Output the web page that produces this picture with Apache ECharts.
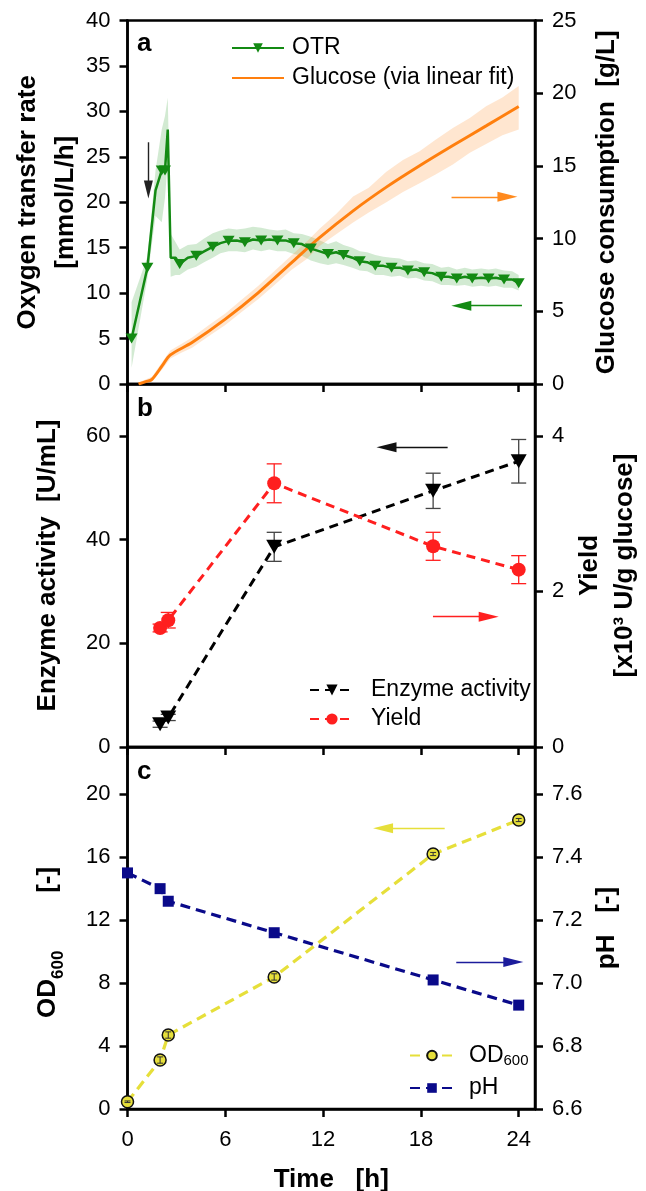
<!DOCTYPE html>
<html>
<head>
<meta charset="utf-8">
<title>Cultivation time course</title>
<script src="https://cdn.jsdelivr.net/npm/echarts@6/dist/echarts.min.js"></script>
<style>
  html, body { margin: 0; padding: 0; background: #fff; }
  #chart { width: 646px; height: 1191px; }
</style>
</head>
<body>
<div id="chart"></div>
<script>
// ---------- shared time axis (h) ----------
const timeTicks = [0, 6, 12, 18, 24];

// ---------- panel a: oxygen transfer rate (mmol/L/h) ----------
const otrTime   = [0.25, 1.22, 1.72, 2.1, 2.3, 2.47, 2.65, 2.95, 3.2, 3.7, 4.22, 4.7, 5.23, 5.7, 6.2, 6.7, 7.2, 7.7, 8.2, 8.7, 9.2, 9.7, 10.2, 10.7, 11.25, 11.8, 12.3, 12.8, 13.25, 13.8, 14.25, 14.7, 15.2, 15.7, 16.2, 16.7, 17.2, 17.7, 18.2, 18.7, 19.25, 19.7, 20.2, 20.7, 21.15, 21.7, 22.15, 22.6, 23.1, 23.6, 24.0];
const otrValue  = [5.0, 12.8, 21.3, 23.5, 23.5, 28.0, 13.9, 13.9, 13.2, 13.9, 14.1, 14.6, 15.1, 15.5, 15.75, 15.8, 15.6, 15.9, 15.8, 15.9, 15.8, 15.8, 15.5, 15.4, 14.9, 14.6, 14.3, 14.5, 14.2, 13.9, 13.5, 13.4, 13.0, 13.0, 12.8, 12.8, 12.5, 12.6, 12.3, 12.2, 11.8, 11.8, 11.6, 11.8, 11.6, 11.7, 11.6, 11.7, 11.5, 11.5, 11.1];
const otrMarked = [1, 1, 0, 1, 1, 0, 0, 0, 1, 0, 1, 0, 1, 0, 1, 0, 1, 0, 1, 0, 1, 0, 1, 0, 1, 0, 1, 0, 1, 0, 1, 0, 1, 0, 1, 0, 1, 0, 1, 0, 1, 0, 1, 0, 1, 0, 1, 0, 1, 0, 1];
const otrLow    = [1.8, 11.6, 18.5, 17.8, 20.5, 24.5, 11.8, 12.0, 12.0, 12.6, 12.9, 13.4, 13.9, 14.4, 14.6, 14.6, 14.5, 14.8, 14.6, 14.8, 14.6, 14.6, 14.3, 14.1, 13.6, 13.3, 13.1, 13.3, 13.1, 12.8, 12.5, 12.4, 12.0, 12.0, 11.8, 11.9, 11.6, 11.7, 11.4, 11.3, 10.9, 10.9, 10.8, 10.9, 10.7, 10.8, 10.7, 10.8, 10.6, 10.6, 10.3];
const otrHigh   = [9.0, 14.0, 23.5, 28.0, 29.5, 31.5, 16.5, 15.6, 14.8, 15.3, 15.4, 16.0, 16.6, 16.9, 17.1, 17.0, 17.1, 17.3, 17.2, 17.0, 16.9, 17.0, 16.6, 16.5, 16.2, 15.8, 15.4, 15.7, 15.3, 15.0, 14.6, 14.5, 14.2, 14.0, 13.9, 13.8, 13.5, 13.6, 13.3, 13.2, 12.8, 12.9, 12.6, 12.8, 12.6, 12.7, 12.6, 12.7, 12.5, 12.4, 12.0];

// ---------- panel a: glucose consumption from linear fit (g/L) ----------
const glcTime  = [0.68, 1.12, 1.5, 2.12, 2.63, 3.96, 6.0, 8.03, 10.07, 11.8, 13.84, 15.88, 17.92, 19.96, 22.0, 24.0];
const glcValue = [0, 0.16, 0.32, 1.24, 2.0, 2.85, 4.46, 6.29, 8.35, 10.08, 11.91, 13.54, 15.01, 16.40, 17.75, 19.08];
const glcBandTime = [0.68, 1.5, 2.12, 2.63, 3.3, 3.96, 5.0, 6.0, 7.0, 8.03, 9.0, 10.07, 11.0, 11.8, 12.8, 13.84, 14.8, 15.88, 16.9, 17.92, 18.9, 19.96, 21.0, 22.0, 23.0, 24.0];
const glcLow   = [0, 0.15, 1.0, 1.75, 2.15, 2.5, 3.3, 4.05, 4.95, 5.85, 6.8, 7.85, 8.6, 9.5, 10.3, 11.1, 11.8, 12.5, 13.2, 13.8, 14.4, 15.1, 15.9, 16.5, 17.1, 17.5];
const glcHigh  = [0.1, 0.5, 1.5, 2.3, 2.75, 3.2, 4.05, 4.85, 5.8, 6.75, 7.75, 8.85, 9.8, 10.7, 11.7, 12.9, 13.5, 14.6, 15.4, 16.0, 16.8, 17.6, 18.3, 19.1, 19.7, 20.5];

// ---------- panel b: offline samples ----------
const sampleTime     = [2, 2.5, 9, 18.75, 24];
const enzymeActivity = [4.4, 5.7, 38.6, 49.4, 55.1];
const enzymeError    = [0.6, 0.6, 2.8, 3.4, 4.2];
const yieldValue     = [1.53, 1.63, 3.39, 2.58, 2.28];
const yieldError     = [0.05, 0.1, 0.25, 0.18, 0.18];

// ---------- panel c: biomass and pH ----------
const odTime  = [0, 2, 2.5, 9, 18.75, 24];
const od600   = [0.46, 3.11, 4.70, 8.39, 16.2, 18.36];
const odError = [0.05, 0.2, 0.2, 0.2, 0.1, 0.1];
const phValue = [7.35, 7.30, 7.26, 7.16, 7.01, 6.93];

// ---------- tick values ----------
const otrTicks    = [0, 5, 10, 15, 20, 25, 30, 35, 40];
const glcTicks    = [0, 5, 10, 15, 20, 25];
const enzymeTicks = [0, 20, 40, 60];
const yieldTicks  = [0, 2, 4];
const odTicks     = [0, 4, 8, 12, 16, 20];
const phTicks     = [6.6, 6.8, 7.0, 7.2, 7.4, 7.6];

// ---------- annotation arrows: [from, to (head centre), colour, head size] in axis units ----------
const otrArrows     = [[[1.28, 26.6], [1.28, 21.4], '#222', [9, 18]], [[24.2, 8.62], [20.48, 8.62], '#138a13', [10, 20]]];
const glcArrows     = [[[19.88, 12.87], [23.31, 12.87], '#ff8a1e', [10, 20]]];
const enzymeArrows  = [[[19.64, 57.8], [15.89, 57.8], '#111', [10, 20]]];
const yieldArrows   = [[[18.74, 1.675], [22.16, 1.675], '#ff2020', [10, 20]]];
const odArrows      = [[[19.46, 17.83], [15.68, 17.83], '#e6df3a', [10, 20]]];
const phArrows      = [[[20.17, 7.067], [23.67, 7.067], '#1c1c9c', [10, 20]]];

const FONT = "'Liberation Sans', Arial, Helvetica, sans-serif";
const GREEN = '#138a13', ORANGE = '#ff7f0e', RED = '#ff1f1f', YELLOW = '#e6df3a', NAVY = '#0a0a8a';

function arrowMarkLine(arrows) {
  return {
    silent: true,
    animation: false,
    symbol: ['none', 'triangle'],
    label: { show: false },
    emphasis: { disabled: true },
    data: arrows.map(a => [
      { coord: a[0], symbolSize: a[3], lineStyle: { color: a[2], width: 1.4, type: 'solid' } },
      { coord: a[1], symbolSize: a[3], lineStyle: { color: a[2], width: 1.4, type: 'solid' } }
    ])
  };
}

function bandRenderer(times, lows, highs, fill) {
  return function (params, api) {
    if (params.dataIndex !== 0) return null;
    const pts = [];
    for (let i = 0; i < times.length; i++) pts.push(api.coord([times[i], highs[i]]));
    for (let i = times.length - 1; i >= 0; i--) pts.push(api.coord([times[i], lows[i]]));
    return { type: 'polygon', shape: { points: pts }, style: { fill: fill } };
  };
}

function errorBarRenderer(color, width, cap) {
  return function (params, api) {
    const x = api.value(0);
    const top = api.coord([x, api.value(2)]);
    const bot = api.coord([x, api.value(1)]);
    const h = cap / 2;
    const st = { stroke: color, lineWidth: width };
    return {
      type: 'group',
      children: [
        { type: 'line', shape: { x1: top[0], y1: top[1], x2: bot[0], y2: bot[1] }, style: st },
        { type: 'line', shape: { x1: top[0] - h, y1: top[1], x2: top[0] + h, y2: top[1] }, style: st },
        { type: 'line', shape: { x1: bot[0] - h, y1: bot[1], x2: bot[0] + h, y2: bot[1] }, style: st }
      ]
    };
  };
}

const tickLabel = { fontSize: 22, color: '#000', fontFamily: FONT };
const titleStyle = { fontSize: 26, fontWeight: 'bold', color: '#000', fontFamily: FONT, lineHeight: 38 };

function xAxisFor(grid, withLabels) {
  const ax = {
    type: 'value', gridIndex: grid, min: 0, max: 25,
    axisLine: { show: true, onZero: false, lineStyle: { color: '#000', width: 2.5 } },
    axisTick: { show: true, inside: false, length: 8, customValues: timeTicks, lineStyle: { color: '#000', width: 2.5 } },
    axisLabel: Object.assign({ show: withLabels, customValues: timeTicks, margin: 20 }, tickLabel),
    splitLine: { show: false },
    nameMoveOverlap: false
  };
  if (withLabels) {
    ax.name = 'Time   [h]';
    ax.nameLocation = 'middle';
    ax.nameGap = 56;
    ax.nameTextStyle = Object.assign({}, titleStyle, { lineHeight: 30 });
  }
  return ax;
}

function yAxisFor(grid, pos, min, max, ticks, name, gap, extra) {
  return Object.assign({
    type: 'value', gridIndex: grid, position: pos, min: min, max: max,
    axisLine: { show: true, onZero: false, lineStyle: { color: '#000', width: 2.5 } },
    axisTick: { show: true, inside: false, length: 8, customValues: ticks, lineStyle: { color: '#000', width: 2.5 } },
    axisLabel: Object.assign({ customValues: ticks, margin: 17 }, tickLabel),
    splitLine: { show: false },
    name: name, nameLocation: 'middle', nameGap: gap, nameRotate: 90, nameMoveOverlap: false,
    nameTextStyle: Object.assign({}, titleStyle)
  }, extra || {});
}

const chart = echarts.init(document.getElementById('chart'), null, { renderer: 'canvas', width: 646, height: 1191 });

const gridBox = { show: true, borderColor: '#000', borderWidth: 2.5, backgroundColor: 'transparent', containLabel: false, outerBoundsMode: 'none' };

const option = {
  animation: false,
  backgroundColor: '#fff',
  title: [
    { text: 'a', left: 137, top: 31, padding: 0, textStyle: { fontSize: 26, fontWeight: 'bold', color: '#000', fontFamily: FONT } },
    { text: 'b', left: 137, top: 396, padding: 0, textStyle: { fontSize: 26, fontWeight: 'bold', color: '#000', fontFamily: FONT } },
    { text: 'c', left: 137, top: 759, padding: 0, textStyle: { fontSize: 26, fontWeight: 'bold', color: '#000', fontFamily: FONT } }
  ],
  grid: [
    Object.assign({ left: 127.5, right: 111, top: 20.5, height: 363.5 }, gridBox),
    Object.assign({ left: 127.5, right: 111, top: 384, height: 363 }, gridBox),
    Object.assign({ left: 127.5, right: 111, top: 747, height: 362 }, gridBox)
  ],
  legend: [
    {
      data: ['OTR', { name: 'Glucose (via linear fit)', itemStyle: { opacity: 0 } }],
      orient: 'vertical', left: 231, top: 36,
      itemWidth: 52, itemHeight: 12, itemGap: 6, selectedMode: false, padding: 0,
      textStyle: { fontSize: 23, color: '#000', fontFamily: FONT, lineHeight: 24, padding: [0, 0, 0, 3] }
    },
    {
      data: ['Enzyme activity', 'Yield'], orient: 'vertical', left: 309, top: 678,
      itemWidth: 44, itemHeight: 14, itemGap: 5, selectedMode: false, padding: 0,
      textStyle: { fontSize: 23, color: '#000', fontFamily: FONT, lineHeight: 24, padding: [0, 0, 0, 12] }
    },
    {
      data: ['OD600', 'pH'], orient: 'vertical', left: 409, top: 1044,
      itemWidth: 44, itemHeight: 12, itemGap: 8, selectedMode: false, padding: 0,
      formatter: n => n === 'OD600' ? '{m|OD}{s|600}' : '{m|pH}',
      textStyle: {
        fontSize: 23, color: '#000', fontFamily: FONT, padding: [0, 0, 0, 10],
        rich: {
          m: { fontSize: 23, lineHeight: 26, fontFamily: FONT, color: '#000' },
          s: { fontSize: 15, lineHeight: 12, verticalAlign: 'bottom', fontFamily: FONT, color: '#000' }
        }
      }
    }
  ],
  xAxis: [xAxisFor(0, false), xAxisFor(1, false), xAxisFor(2, true)],
  yAxis: [
    yAxisFor(0, 'left', 0, 40, otrTicks, 'Oxygen transfer rate\n[mmol/L/h]', 43),
    yAxisFor(0, 'right', 0, 25, glcTicks, 'Glucose consumption  [g/L]', 53),
    yAxisFor(1, 'left', 0, 70, enzymeTicks, 'Enzyme activity  [U/mL]', 61),
    yAxisFor(1, 'right', 0, 70 / 15, yieldTicks, 'Yield\n[x10³ U/g glucose]', 37, {
      nameTextStyle: Object.assign({}, titleStyle, { lineHeight: 35 })
    }),
    yAxisFor(2, 'left', 0, 23, odTicks, '{t|OD}{s|600}{t|        [-]    }', 61, {
      nameTextStyle: Object.assign({}, titleStyle, {
        rich: {
          t: { fontSize: 26, fontWeight: 'bold', lineHeight: 38, fontFamily: FONT, color: '#000' },
          s: { fontSize: 17, fontWeight: 'bold', lineHeight: 21, verticalAlign: 'bottom', fontFamily: FONT, color: '#000' }
        }
      })
    }),
    yAxisFor(2, 'right', 6.6, 7.75, phTicks, 'pH   [-]', 53, {
      axisLabel: Object.assign({ customValues: phTicks, margin: 17, formatter: v => v.toFixed(1) }, tickLabel)
    })
  ],
  series: [
    // panel a: spread bands
    {
      type: 'custom', name: 'OTR spread', xAxisIndex: 0, yAxisIndex: 0, silent: true, z: 1,
      data: otrTime.map((t, i) => [t, otrLow[i], otrHigh[i]]),
      renderItem: bandRenderer(otrTime, otrLow, otrHigh, 'rgba(30,150,30,0.2)')
    },
    {
      type: 'custom', name: 'Glucose spread', xAxisIndex: 0, yAxisIndex: 1, silent: true, z: 1,
      data: glcBandTime.map((t, i) => [t, glcLow[i], glcHigh[i]]),
      renderItem: bandRenderer(glcBandTime, glcLow, glcHigh, 'rgba(255,140,40,0.22)')
    },
    {
      type: 'line', name: 'Glucose (via linear fit)', xAxisIndex: 0, yAxisIndex: 1, z: 3,
      data: glcTime.map((t, i) => [t, glcValue[i]]),
      symbol: 'none', smooth: 0.3,
      lineStyle: { color: ORANGE, width: 3 }, itemStyle: { color: ORANGE },
      markLine: arrowMarkLine(glcArrows)
    },
    {
      type: 'line', name: 'OTR', xAxisIndex: 0, yAxisIndex: 0, z: 4,
      data: otrTime.map((t, i) => otrMarked[i] ? [t, otrValue[i]] : { value: [t, otrValue[i]], symbol: 'none' }),
      symbol: 'triangle', symbolRotate: 180, symbolSize: [12, 10], showSymbol: true,
      lineStyle: { color: GREEN, width: 2.5 }, itemStyle: { color: GREEN },
      markLine: arrowMarkLine(otrArrows)
    },
    // panel b
    {
      type: 'custom', name: 'Enzyme error', xAxisIndex: 1, yAxisIndex: 2, silent: true, z: 3,
      data: sampleTime.map((t, i) => [t, enzymeActivity[i] - enzymeError[i], enzymeActivity[i] + enzymeError[i]]),
      renderItem: errorBarRenderer('#444', 1.3, 15)
    },
    {
      type: 'custom', name: 'Yield error', xAxisIndex: 1, yAxisIndex: 3, silent: true, z: 3,
      data: sampleTime.map((t, i) => [t, yieldValue[i] - yieldError[i], yieldValue[i] + yieldError[i]]),
      renderItem: errorBarRenderer(RED, 1.3, 15)
    },
    {
      type: 'line', name: 'Enzyme activity', xAxisIndex: 1, yAxisIndex: 2, z: 4,
      data: sampleTime.map((t, i) => [t, enzymeActivity[i]]),
      symbol: 'triangle', symbolRotate: 180, symbolSize: [16, 14],
      lineStyle: { color: '#000', width: 3, type: [9, 6] }, itemStyle: { color: '#000' },
      markLine: arrowMarkLine(enzymeArrows)
    },
    {
      type: 'line', name: 'Yield', xAxisIndex: 1, yAxisIndex: 3, z: 4,
      data: sampleTime.map((t, i) => [t, yieldValue[i]]),
      symbol: 'circle', symbolSize: 14,
      lineStyle: { color: RED, width: 3, type: [9, 6] }, itemStyle: { color: RED },
      markLine: arrowMarkLine(yieldArrows)
    },
    // panel c
    {
      type: 'line', name: 'OD600', xAxisIndex: 2, yAxisIndex: 4, z: 4,
      data: odTime.map((t, i) => [t, od600[i]]),
      symbol: 'circle', symbolSize: 12,
      lineStyle: { color: YELLOW, width: 3.2, type: [10, 6] },
      itemStyle: { color: YELLOW, borderColor: '#111', borderWidth: 1.5 },
      markLine: arrowMarkLine(odArrows)
    },
    {
      type: 'custom', name: 'OD error', xAxisIndex: 2, yAxisIndex: 4, silent: true, z: 5,
      data: odTime.map((t, i) => [t, od600[i] - odError[i], od600[i] + odError[i]]),
      renderItem: errorBarRenderer('#333', 1, 6)
    },
    {
      type: 'line', name: 'pH', xAxisIndex: 2, yAxisIndex: 5, z: 4,
      data: odTime.map((t, i) => [t, phValue[i]]),
      symbol: 'rect', symbolSize: 11,
      lineStyle: { color: NAVY, width: 3.2, type: [10, 6] }, itemStyle: { color: NAVY },
      markLine: arrowMarkLine(phArrows)
    }
  ]
};

chart.setOption(option);
</script>
</body>
</html>
